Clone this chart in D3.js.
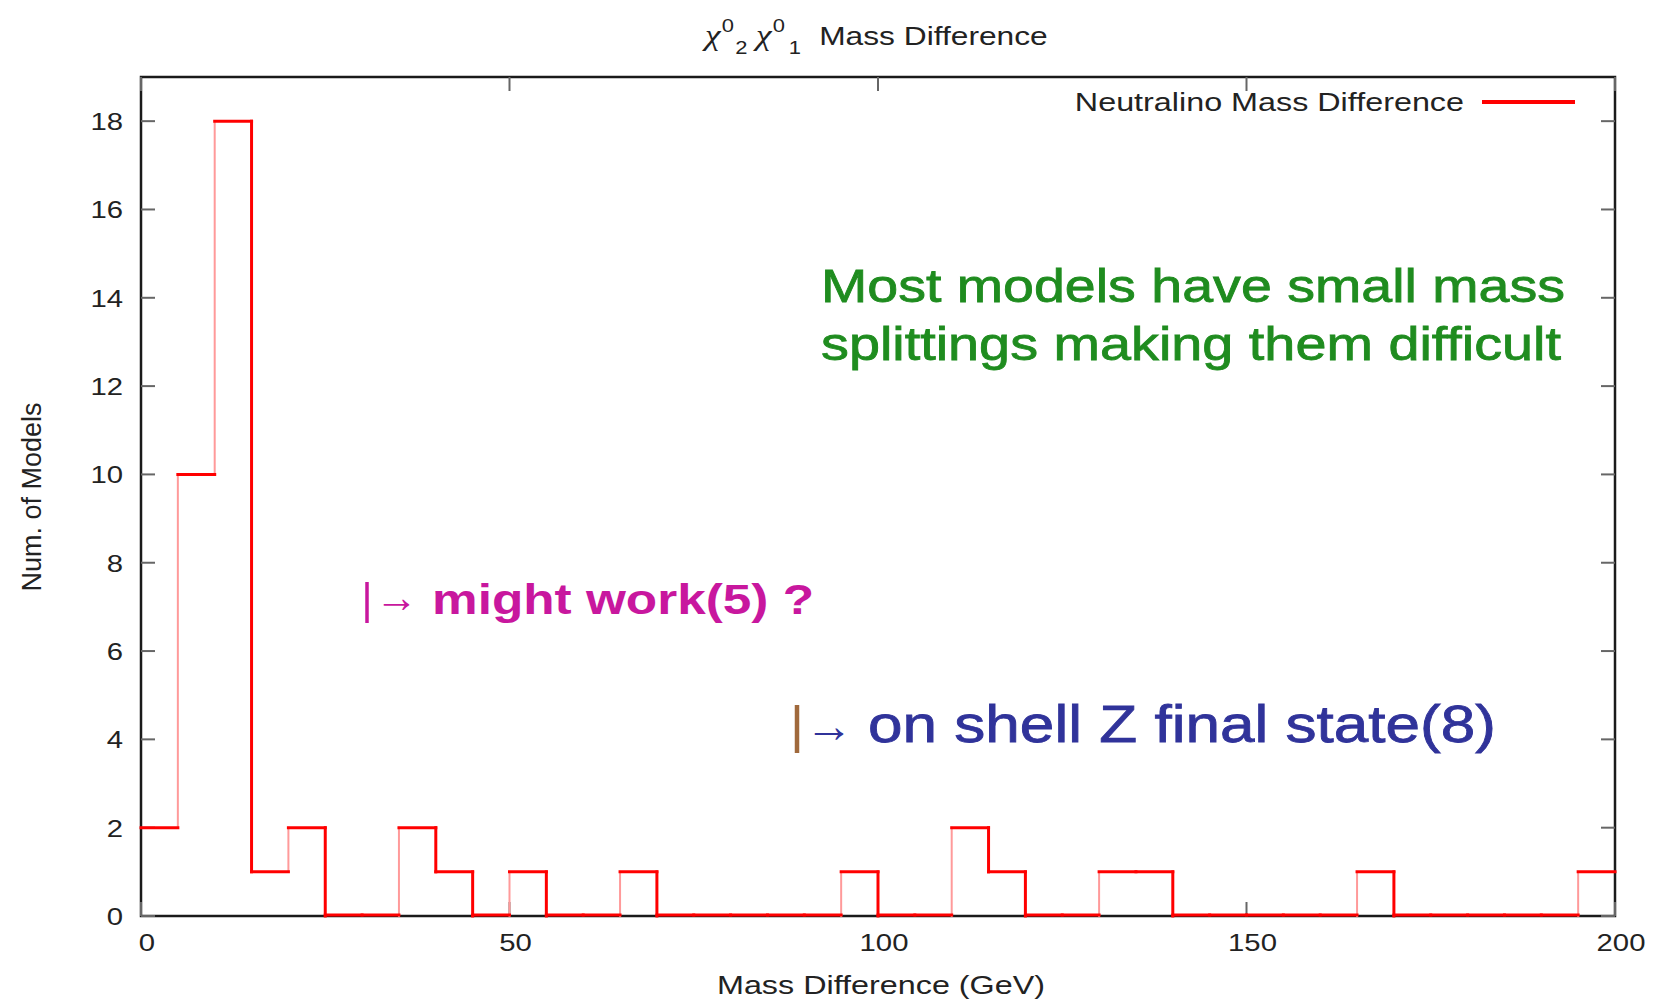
<!DOCTYPE html>
<html lang="en">
<head>
  <meta charset="UTF-8" />
  <title>Neutralino Mass Difference</title>
  <style>
    body { margin: 0; padding: 0; background: #fff; }
    svg { display: block; }
    text { font-family: "Liberation Sans", Arial, sans-serif; }
  </style>
  <script src="https://d3js.org/d3.v7.min.js"></script>
</head>
<body>
  <svg width="1654" height="999"></svg>

  <script>
    // histogram bins (GeV, width 5) and counts
    const binStart = [0, 5, 10, 15, 20, 25, 30, 35, 40, 45,
                      50, 55, 60, 65, 70, 75, 80, 85, 90, 95,
                      100, 105, 110, 115, 120, 125, 130, 135, 140, 145,
                      150, 155, 160, 165, 170, 175, 180, 185, 190, 195];
    const counts = [2, 10, 18, 1, 2, 0, 0, 2, 1, 0,
                    1, 0, 0, 1, 0, 0, 0, 0, 0, 1,
                    0, 0, 2, 1, 0, 0, 1, 1, 0, 0,
                    0, 0, 0, 1, 0, 0, 0, 0, 0, 1];
    const binWidth = 5;
    const xTicks = [0, 50, 100, 150, 200];
    const yTicks = [0, 2, 4, 6, 8, 10, 12, 14, 16, 18];

    const svg = d3.select("svg");
    const sx = 1.22; // the reference glyphs are stretched sideways

    const x = d3.scaleLinear().domain([0, 200]).range([141, 1615]);
    const y = d3.scaleLinear().domain([0, 19]).range([916, 77]);

    function label(g, px, py, str, size, anchor) {
      return g.append("text")
        .attr("transform", `translate(${px},${py}) scale(${sx},1)`)
        .attr("text-anchor", anchor || "start")
        .attr("font-size", size)
        .attr("fill", "#222")
        .text(str);
    }

    // frame
    svg.append("rect")
      .attr("x", x(0)).attr("y", y(19))
      .attr("width", x(200) - x(0)).attr("height", y(0) - y(19))
      .attr("fill", "none").attr("stroke", "#1a1a1a").attr("stroke-width", 2.5);

    // inward ticks on all four sides
    const tl = 14;
    const ticks = svg.append("g").attr("stroke", "#666").attr("stroke-width", 2);
    yTicks.forEach(v => {
      ticks.append("line").attr("x1", x(0)).attr("x2", x(0) + tl).attr("y1", y(v)).attr("y2", y(v));
      ticks.append("line").attr("x1", x(200)).attr("x2", x(200) - tl).attr("y1", y(v)).attr("y2", y(v));
    });
    xTicks.forEach(v => {
      ticks.append("line").attr("x1", x(v)).attr("x2", x(v)).attr("y1", y(0)).attr("y2", y(0) - tl);
      ticks.append("line").attr("x1", x(v)).attr("x2", x(v)).attr("y1", y(19)).attr("y2", y(19) + tl);
    });

    const labels = svg.append("g");
    yTicks.forEach(v => label(labels, 123, y(v) + 9, v, 24, "end"));
    xTicks.forEach(v => label(labels, x(v) + 6, 951, v, 24, "middle"));

    // histogram steps: rising edges come out light in the reference
    const hist = svg.append("g").attr("fill", "none").attr("stroke-linecap", "square");
    binStart.forEach((b, i) => {
      const c = counts[i];
      const prev = i === 0 ? c : counts[i - 1];
      if (c !== prev) {
        hist.append("line")
          .attr("x1", x(b)).attr("x2", x(b))
          .attr("y1", y(prev)).attr("y2", y(c))
          .attr("stroke", c > prev ? "#ff9a9a" : "#ff0000")
          .attr("stroke-width", c > prev ? 2 : 3);
      }
    });
    binStart.forEach((b, i) => {
      hist.append("line")
        .attr("x1", x(b)).attr("x2", x(b + binWidth))
        .attr("y1", y(counts[i]) - (counts[i] === 0 ? 1 : 0))
        .attr("y2", y(counts[i]) - (counts[i] === 0 ? 1 : 0))
        .attr("stroke", "#ff0000").attr("stroke-width", 3);
    });

    // legend
    label(svg, 1464, 111, "Neutralino Mass Difference", 26.5, "end");
    svg.append("line")
      .attr("x1", 1482).attr("x2", 1575).attr("y1", 102).attr("y2", 102)
      .attr("stroke", "#ff0000").attr("stroke-width", 4);

    // title
    const title = label(svg, 705, 45, "", 26, "start");
    title.append("tspan").attr("font-family", "Liberation Serif").attr("font-style", "italic").attr("font-size", 29).text("χ");
    title.append("tspan").attr("font-size", 18).attr("dy", -13).attr("dx", 1).text("0");
    title.append("tspan").attr("font-size", 18).attr("dy", 22).attr("dx", 1).text("2");
    title.append("tspan").attr("font-family", "Liberation Serif").attr("font-style", "italic").attr("font-size", 29).attr("dy", -9).attr("dx", 7).text("χ");
    title.append("tspan").attr("font-size", 18).attr("dy", -13).attr("dx", 1).text("0");
    title.append("tspan").attr("font-size", 18).attr("dy", 22).attr("dx", 3).text("1");
    title.append("tspan").attr("dy", -9).attr("dx", 15).text("Mass Difference");

    // axis titles
    label(svg, 881, 994, "Mass Difference (GeV)", 26.5, "middle");
    svg.append("text")
      .attr("transform", "translate(41,497) rotate(-90)")
      .attr("text-anchor", "middle")
      .attr("font-size", 27)
      .attr("fill", "#222")
      .text("Num. of Models");

    // annotations
    const green = "#1f8c1f";
    svg.append("text")
      .attr("x", 821).attr("y", 302)
      .attr("font-size", 47).attr("fill", green).attr("stroke", green).attr("stroke-width", 0.8)
      .attr("textLength", 744).attr("lengthAdjust", "spacingAndGlyphs")
      .text("Most models have small mass");
    svg.append("text")
      .attr("x", 821).attr("y", 360)
      .attr("font-size", 47).attr("fill", green).attr("stroke", green).attr("stroke-width", 0.8)
      .attr("textLength", 740).attr("lengthAdjust", "spacingAndGlyphs")
      .text("splittings making them difficult");

    const magenta = "#c8179e";
    svg.append("line")
      .attr("x1", 367).attr("x2", 367).attr("y1", 582).attr("y2", 623)
      .attr("stroke", magenta).attr("stroke-width", 3.5);
    svg.append("text")
      .attr("x", 375).attr("y", 612)
      .attr("font-family", "DejaVu Sans")
      .attr("font-size", 43).attr("fill", magenta)
      .text("→");
    svg.append("text")
      .attr("x", 432).attr("y", 614)
      .attr("font-size", 43).attr("font-weight", "bold").attr("fill", magenta)
      .attr("textLength", 382).attr("lengthAdjust", "spacingAndGlyphs")
      .text("might work(5) ?");

    const navy = "#30339a";
    svg.append("line")
      .attr("x1", 797).attr("x2", 797).attr("y1", 705).attr("y2", 753)
      .attr("stroke", "#a0693c").attr("stroke-width", 4.5);
    svg.append("text")
      .attr("x", 805).attr("y", 742)
      .attr("font-family", "DejaVu Sans")
      .attr("font-size", 48).attr("fill", navy)
      .text("→");
    svg.append("text")
      .attr("x", 868).attr("y", 742)
      .attr("font-size", 52).attr("fill", navy).attr("stroke", navy).attr("stroke-width", 0.8)
      .attr("textLength", 628).attr("lengthAdjust", "spacingAndGlyphs")
      .text("on shell Z final state(8)");
  </script>
</body>
</html>
